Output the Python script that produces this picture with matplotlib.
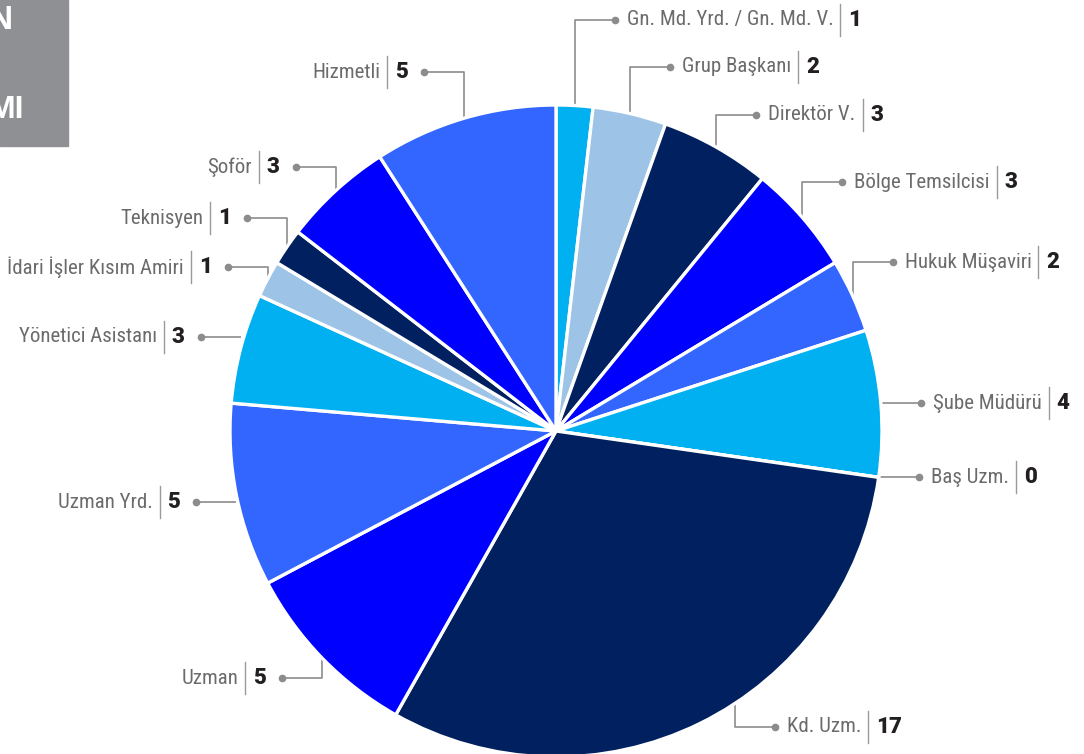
import matplotlib.pyplot as plt
import numpy as np
from matplotlib.patches import Rectangle
from matplotlib import font_manager as fm

# unvan / kisi sayisi
labels = ['Gn. Md. Yrd. / Gn. Md. V.', 'Grup Başkanı', 'Direktör V.', 'Bölge Temsilcisi',
          'Hukuk Müşaviri', 'Şube Müdürü', 'Baş Uzm.', 'Kd. Uzm.', 'Uzman', 'Uzman Yrd.',
          'Yönetici Asistanı', 'İdari İşler Kısım Amiri', 'Teknisyen', 'Şoför', 'Hizmetli']
counts = [1, 2, 3, 3, 2, 4, 0, 17, 5, 5, 3, 1, 1, 3, 5]
palette = ['#00b0f0', '#9dc3e6', '#002060', '#0000ff', '#3366ff']

# layout (pixels, y from top)
W, H = 1084, 754
cx, cy, R = 556, 431, 326
label_y = [20, 67, 115, 182, 262, None, None, 727, 678, 502, 337, 267, 218, 167, 72]
leader_override = {7: -56.7}   # Kd. Uzm. leader angle (deg)
arm = 40


def wnum(w):
    if isinstance(w, str):
        return fm.weight_dict.get(w, 400)
    return int(w)


def pick_narrow():
    best, score = None, -1
    for f in fm.fontManager.ttflist:
        n = f.name.lower()
        st = str(f.stretch).lower()
        cond = ('narrow' in n or 'condensed' in n or 'condensed' in st
                or 'narrow' in f.fname.lower() or 'condensed' in f.fname.lower())
        if not cond or f.style != 'normal' or 'extra' in st or 'ultra' in st:
            continue
        w = wnum(f.weight)
        if w > 400 or w < 300:
            continue
        s = 1
        if 'liberation' in n:
            s = 5
        elif 'roboto' in n:
            s = 4
        elif 'noto' in n or 'open' in n:
            s = 3
        elif 'dejavu' in n:
            s = 2
        if 'semi' in st or 'semi' in f.fname.lower():
            s -= 0.5
        if s > score:
            best, score = f.fname, s
    return best


def pick_black():
    for fam in ['Roboto', 'Lato', 'Inter', 'Noto Sans', 'Open Sans']:
        for f in fm.fontManager.ttflist:
            if f.name == fam and f.style == 'normal' and wnum(f.weight) >= 800 \
                    and 'condensed' not in f.fname.lower():
                return f.fname
    return None


narrow = pick_narrow()
if narrow:
    name_font = dict(fontproperties=fm.FontProperties(fname=narrow, size=15), color='#6b6b6b')
else:
    name_font = dict(family='Liberation Sans', size=13, color='#6b6b6b')
black = pick_black()
if black:
    value_font = dict(fontproperties=fm.FontProperties(fname=black, size=16), color='#231f20')
else:
    value_font = dict(family='DejaVu Sans', weight='bold', size=15, color='#231f20')
line_col = '#8c8c8c'

fig = plt.figure(figsize=(W / 100, H / 100), dpi=100)
ax = fig.add_axes([0, 0, 1, 1])

colors = [palette[i % len(palette)] for i in range(len(counts))]
wedges, _ = ax.pie(counts, colors=colors, startangle=90, counterclock=False,
                   center=(cx, H - cy), radius=R,
                   wedgeprops=dict(edgecolor='white', linewidth=2.4))
for w in wedges:
    w.set_zorder(3)

ax.set_xlim(0, W)
ax.set_ylim(0, H)
ax.set_aspect('equal')
ax.axis('off')

# header box (cropped)
ax.add_patch(Rectangle((0, H - 146), 68, 146, color='#8f9093', zorder=1))
ax.text(13, H - 20.5, 'N', ha='right', va='center', color='white', weight='bold',
        family='Liberation Sans', size=24)
ax.text(24, H - 110.5, 'MI', ha='right', va='center', color='white', weight='bold',
        family='Liberation Sans', size=23)

renderer = fig.canvas.get_renderer()


def width_of(t):
    return t.get_window_extent(renderer).width


for i, w in enumerate(wedges):
    ang = leader_override.get(i, (w.theta1 + w.theta2) / 2)
    a = np.deg2rad(ang)
    x0 = cx + R * np.cos(a)
    y0 = (H - cy) + R * np.sin(a)
    side = 1 if np.cos(a) > 0 else -1
    if label_y[i] is None:
        ly = y0
        xs = [x0, x0 + side * arm]
        ys = [y0, y0]
    else:
        ly = H - label_y[i]
        if side < 0 and abs(np.sin(a)) < 0.3:
            xs = [x0, x0 + side * arm]
            ys = [ly, ly]
        else:
            xs = [x0, x0, x0 + side * arm]
            ys = [y0, ly, ly]
    ax.plot(xs, ys, color=line_col, lw=1.2, zorder=2, solid_capstyle='butt')
    ax.plot(xs[-1], ys[-1], 'o', color=line_col, ms=4.5, zorder=2)
    xd = xs[-1]
    if side > 0:
        t = ax.text(xd + 12, ly, labels[i], ha='left', va='center', **name_font)
        xsep = xd + 12 + width_of(t) + 7
        ax.plot([xsep, xsep], [ly - 16, ly + 16], color='#9a9a9a', lw=1.0)
        ax.text(xsep + 8, ly, str(counts[i]), ha='left', va='center', **value_font)
    else:
        t = ax.text(xd - 16, ly, str(counts[i]), ha='right', va='center', **value_font)
        xsep = xd - 16 - width_of(t) - 8
        ax.plot([xsep, xsep], [ly - 16, ly + 16], color='#9a9a9a', lw=1.0)
        ax.text(xsep - 7, ly, labels[i], ha='right', va='center', **name_font)

fig.savefig('out.png', dpi=100)
